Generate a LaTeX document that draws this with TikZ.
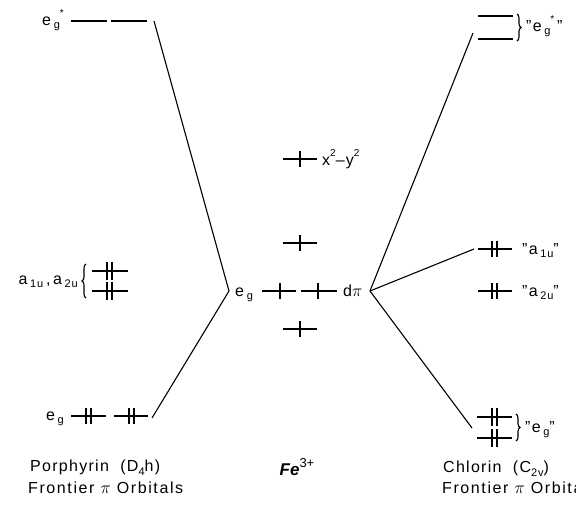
\documentclass[tikz,border=0pt]{standalone}
\usepackage{fontspec}
\setmainfont{Liberation Sans}
\usetikzlibrary{decorations.pathreplacing}
\newcommand\mysub[1]{\raisebox{-0.45ex}{\fontsize{11}{11}\selectfont #1}}
\newcommand\mysup[1]{\raisebox{0.95ex}{\fontsize{10}{10}\selectfont #1}}
\begin{document}
\begin{tikzpicture}[x=1pt,y=-1pt,
  lev/.style={line width=2.7pt},
  conn/.style={line width=1.1pt},
  tk/.style={line width=2pt},
  brc/.style={decorate,decoration={brace,amplitude=4pt},line width=1.1pt},
  lbl/.style={font=\fontsize{16}{18}\selectfont\addfontfeatures{LetterSpace=8},inner sep=0pt},
  capt/.style={font=\fontsize{16}{19}\selectfont\addfontfeatures{LetterSpace=8},inner sep=0pt,anchor=west}]
\useasboundingbox (0,0) rectangle (576,504);
% ---------- left: porphyrin ----------
\draw[lev] (71,21) -- (107,21);
\draw[lev] (111,21) -- (147,21);
\node[lbl,anchor=base east] (egsL) at (64,25) {e\,\mysub{g}\mysup{*}};
\draw[lev] (92,271) -- (128,271);
\draw[lev] (92,291) -- (128,291);
\foreach \y in {271,291}{\draw[tk] (107,\y-9) -- (107,\y+9); \draw[tk] (111.5,\y-9) -- (111.5,\y+9);}
\draw[brc] (86,298) -- (86,264);
\node[lbl,anchor=base east] (aL) at (78,284) {a\,\mysub{1u}\,,\,a\,\mysub{2u}};
\draw[lev] (71,416) -- (106,416);
\draw[lev] (114,416) -- (148,416);
\foreach \x in {86,129}{\draw[tk] (\x,408) -- (\x,424); \draw[tk] (\x+4.5,408) -- (\x+4.5,424);}
\node[lbl,anchor=base east] (egL) at (64,420) {e\,\mysub{g}};
\coordinate (eLt) at (154,21);
\coordinate (vL) at (229,291);
\coordinate (eLb) at (152,418);
\draw[conn] (eLt) -- (vL) -- (eLb);
% ---------- centre: Fe ----------
\draw[lev] (283,159) -- (317,159); \draw[tk] (300,151) -- (300,167);
\node[lbl,anchor=base west] (xy) at (322,165) {x\mysup{2}–y\mysup{2}};
\draw[lev] (283,243) -- (317,243); \draw[tk] (300,235) -- (300,251);
\draw[lev] (262,291) -- (296,291); \draw[tk] (280,283) -- (280,299);
\draw[lev] (301,291) -- (337,291); \draw[tk] (318,283) -- (318,299);
\draw[lev] (283,329) -- (317,329); \draw[tk] (300,321) -- (300,337);
\node[lbl,anchor=base west] (egC) at (235,296) {e\,\mysub{g}};
\node[lbl,anchor=base west] (dpi) at (343,296) {d$\pi$};
\coordinate (vR) at (370,291);
% ---------- right: chlorin ----------
\draw[lev] (478,16) -- (513,16);
\draw[lev] (478,39) -- (513,39);
\draw[brc] (517,14) -- (517,41);
\node[lbl,anchor=base west] (egsR) at (526,31) {"e\,\mysub{g}\mysup{*}\,"};
\draw[lev] (478,249) -- (512,249);
\foreach \x in {492,496.5}{\draw[tk] (\x,241) -- (\x,257);}
\node[lbl,anchor=base west] (a1R) at (522,254) {"a\,\mysub{1u}"};
\draw[lev] (478,291) -- (512,291);
\foreach \x in {492,496.5}{\draw[tk] (\x,283) -- (\x,299);}
\node[lbl,anchor=base west] (a2R) at (522,296) {"a\,\mysub{2u}"};
\draw[lev] (477,417) -- (512,417);
\draw[lev] (477,438) -- (512,438);
\foreach \y in {417,438}{\draw[tk] (492,\y-9) -- (492,\y+9); \draw[tk] (496.5,\y-9) -- (496.5,\y+9);}
\draw[brc] (516,414) -- (516,441);
\node[lbl,anchor=base west] (egR) at (525,432) {"e\,\mysub{g}"};
\coordinate (rT) at (473,33);
\coordinate (rA) at (474,249);
\coordinate (rB) at (472,428);
\draw[conn] (rT) -- (vR) -- (rB);
\draw[conn] (vR) -- (rA);
% ---------- captions ----------
\node[capt] (capL1) at (30,468) {Porphyrin\ \ (D\mysub{4}h)};
\node[capt,font=\fontsize{16}{19}\selectfont\addfontfeatures{LetterSpace=10}] (capL2) at (28,488) {Frontier $\pi$ Orbitals};
\node[inner sep=0pt,font=\fontsize{17}{19}\selectfont] (fe) at (297,467) {\textbf{\textit{Fe}}\mysup{\fontsize{13}{13}\selectfont 3+}};
\node[capt] (capR1) at (443,469) {Chlorin\ \ (C\mysub{2v})};
\node[capt,font=\fontsize{16}{19}\selectfont\addfontfeatures{LetterSpace=10}] (capR2) at (442,488) {Frontier $\pi$ Orbitals};
\end{tikzpicture}
\end{document}
